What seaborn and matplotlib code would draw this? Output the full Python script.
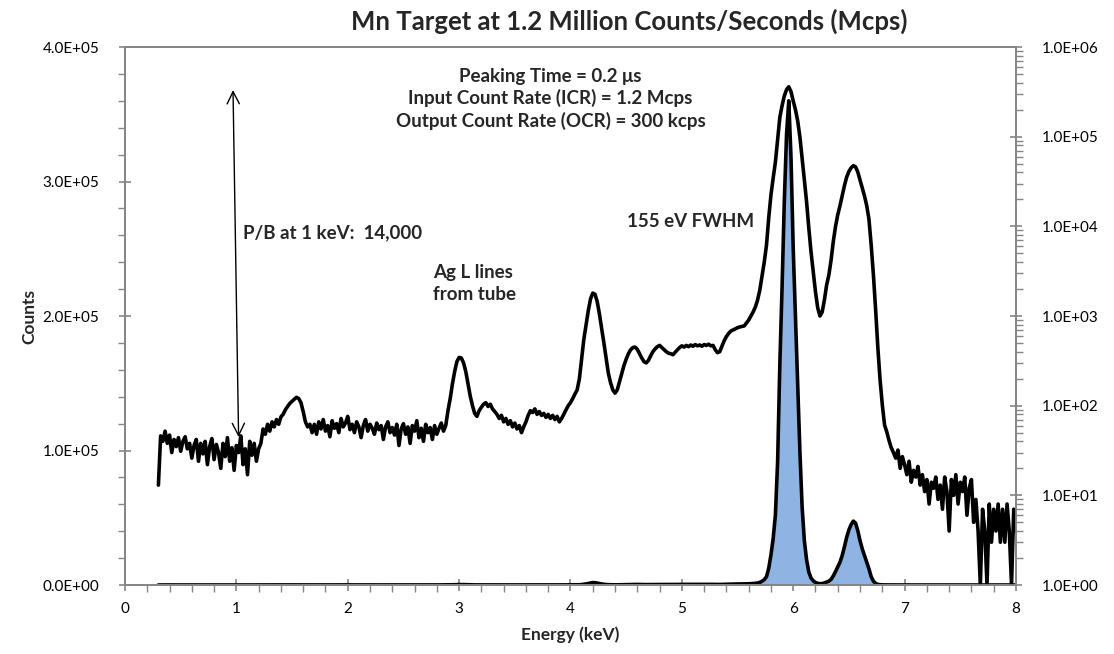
import numpy as np
import pandas as pd
import seaborn as sns
import matplotlib.pyplot as plt
from matplotlib.ticker import FuncFormatter, MultipleLocator, LogLocator, NullFormatter

# Mn target spectrum, 0.02 keV per channel; each segment starts at the given energy
kev_per_channel = 0.02

seg_low_start = 0.30
seg_low = [13, 46, 40, 52, 38, 47, 30, 42, 35, 44, 31, 40, 45, 33, 38, 26, 36, 42, 24, 38,
           29, 40, 22, 35, 43, 25, 37, 30, 20, 38, 27, 44, 24, 34, 19, 36, 30, 46, 22, 33,
           17, 40, 28, 38, 24, 33]

seg_si_start = 1.22
seg_si = [38, 55, 48, 62, 52, 66, 58, 70, 62, 75, 80, 90, 98, 106, 112, 118, 124, 120, 108, 86,
          66, 58, 62, 50]

seg_flat_start = 1.70
seg_flat = [62, 48, 66, 55, 70, 52, 60, 45, 68, 56, 63, 50, 72, 58, 64, 76, 54, 62, 50, 66,
            58, 44, 60, 70, 52, 62, 56, 48, 64, 54, 60, 42, 58, 66, 50, 57, 47, 62, 36, 55,
            63, 48, 58, 38, 60, 52, 68, 44, 56, 40, 62, 50, 57, 42, 60, 48, 56, 64, 52, 60]

seg_agl_start = 2.90
seg_agl = [88, 120, 175, 240, 310, 345, 340, 300, 240, 175, 128, 100, 82, 76, 88, 96, 104, 108, 98, 104,
           92, 86]

seg_mid_start = 3.34
seg_mid = [80, 72, 78, 66, 72, 62, 68, 58, 64, 55, 60, 50, 58, 66, 78, 88, 84, 92, 80, 86,
           78, 82, 74, 80, 72, 78, 70, 76, 66, 72, 80, 90, 100, 108]

seg_esc_start = 4.02
seg_esc = [120, 135, 150, 200, 330, 550, 800, 1150, 1550, 1800,
           1750, 1450, 1050, 730, 500, 340, 230, 180, 150, 138,
           150, 185, 230, 280, 330, 380, 420, 445, 450, 425,
           380, 340, 310, 300, 320, 360, 400, 430, 455, 470,
           445, 420, 400, 385, 380, 370, 395, 420, 445, 465,
           450, 470, 455, 475, 460, 480, 465, 475, 460, 480,
           470, 485, 465, 470, 420, 390, 400, 460, 530, 590,
           640, 680, 700, 720, 740, 755, 765]

seg_mn_start = 5.56
seg_mn = [775, 836, 902, 1000, 1110, 1260, 1510, 1950, 2790, 4000,
          6190, 12400, 22400, 34600, 52100, 92000, 165000, 222000, 285000, 335000,
          360000, 318000, 250000, 200000, 150000, 99100, 57800, 32900, 18700, 9570,
          5170, 3100, 1850, 1230, 1000, 1110, 1510, 2220, 2870, 4210,
          6800, 10000, 13500, 17000, 22000, 28500, 35500, 41000, 45000, 47500,
          46000, 40300, 32900, 26800, 21800, 17000, 12000, 6190, 2870, 1170,
          440, 193, 102, 61, 51, 41, 34]

seg_tail_start = 6.90
seg_tail = [30, 26, 32, 20, 27, 22, 17, 24, 14, 19, 16, 21, 13, 17, 11, 15, 8, 14, 12, 16,
            9, 13, 7, 16, 11, 4, 15, 10, 17, 8, 14, 11, 16, 6, 12, 15, 5, 9, 4, 1,
            7, 4, 1, 8, 3, 7, 4, 8, 3, 7, 3, 8, 4, 1, 7, 4]

segments = [(seg_low_start, seg_low), (seg_si_start, seg_si), (seg_flat_start, seg_flat),
            (seg_agl_start, seg_agl), (seg_mid_start, seg_mid), (seg_esc_start, seg_esc),
            (seg_mn_start, seg_mn), (seg_tail_start, seg_tail)]

frames = []
for start, vals in segments:
    e = np.round(start + kev_per_channel * np.arange(len(vals)), 2)
    frames.append(pd.DataFrame({'energy': e, 'counts': vals}))
df = pd.concat(frames, ignore_index=True)

sns.set_theme(style="white")
plt.rcParams['font.family'] = ['Lato', 'DejaVu Sans']

axis_grey = '#868686'
fill_blue = '#8DB4E2'

fig = plt.figure(figsize=(11.14, 6.54), dpi=100)
ax = fig.add_axes([0.1122, 0.1055, 0.7998, 0.8226])

# linear scale: filled peaks
ax.fill_between(df['energy'], 0, df['counts'], color=fill_blue, lw=0, zorder=1)
sns.lineplot(data=df, x='energy', y='counts', ax=ax, color='black', lw=2.6,
             estimator=None, sort=False, zorder=2)

ax.set_xlim(0, 8)
ax.set_ylim(0, 4e5)
ax.xaxis.set_major_locator(MultipleLocator(1))
ax.xaxis.set_minor_locator(MultipleLocator(0.2))
ax.yaxis.set_major_locator(MultipleLocator(1e5))
ax.yaxis.set_minor_locator(MultipleLocator(2e4))
ax.yaxis.set_major_formatter(FuncFormatter(lambda v, _: f"{v:.1E}"))
ax.set_xlabel('Energy (keV)', fontsize=12.5, fontweight='bold', labelpad=7)
ax.set_ylabel('Counts', fontsize=12.5, fontweight='bold', labelpad=4)

# log scale: full spectrum
ax2 = ax.twinx()
sns.lineplot(data=df, x='energy', y='counts', ax=ax2, color='black', lw=2.6,
             estimator=None, sort=False)
ax2.set_yscale('log')
ax2.set_ylim(1, 1e6)
ax2.set_xlim(0, 8)
ax2.yaxis.set_major_locator(LogLocator(base=10, numticks=10))
ax2.yaxis.set_minor_locator(LogLocator(base=10, subs=np.arange(2, 10), numticks=10))
ax2.yaxis.set_minor_formatter(NullFormatter())
ax2.yaxis.set_major_formatter(FuncFormatter(lambda v, _: f"{v:.1E}"))
ax2.set_ylabel('')
ax2.set_xlabel('')
ax2.xaxis.label.set_visible(False)
for a in (ax, ax2):
    a.xaxis.offsetText.set_visible(False)
    a.yaxis.offsetText.set_visible(False)

for a in (ax, ax2):
    for s in a.spines.values():
        s.set_color(axis_grey)
        s.set_linewidth(1.3)

ax.tick_params(axis='both', which='major', direction='inout', length=9, width=1.2,
               color=axis_grey, labelsize=11, labelcolor='black', bottom=True, left=True)
ax.tick_params(axis='both', which='minor', direction='out', length=5, width=1.0,
               color=axis_grey, bottom=True, left=True)
ax.tick_params(axis='x', which='major', pad=8)
ax.tick_params(axis='y', which='major', pad=14)
ax2.tick_params(axis='y', which='major', direction='inout', length=9, width=1.2,
                color=axis_grey, labelsize=11, labelcolor='black', right=True, pad=14)
ax2.tick_params(axis='y', which='minor', direction='out', length=5, width=1.0,
                color=axis_grey, right=True)

# annotations
info = "Peaking Time = 0.2 \u03bcs\nInput Count Rate (ICR) = 1.2 Mcps\nOutput Count Rate (OCR) = 300 kcps"
ax.text(3.82, 3.615e5, info, ha='center', va='center', fontsize=13.5, fontweight='bold',
        linespacing=1.3)
ax.text(1.06, 2.62e5, 'P/B at 1 keV:  14,000', ha='left', va='center', fontsize=13.5,
        fontweight='bold')
ax.text(4.51, 2.70e5, '155 eV FWHM', ha='left', va='center', fontsize=13.5, fontweight='bold')
ax.text(2.77, 2.24e5, 'Ag L lines\nfrom tube', ha='left', va='center', fontsize=13.5,
        fontweight='bold', linespacing=1.35)
ax.annotate('', xy=(0.97, 3.68e5), xytext=(1.02, 1.10e5),
            arrowprops=dict(arrowstyle='<->', color='black', lw=1.0,
                            mutation_scale=22, shrinkA=0, shrinkB=0))

fig.text(0.5646, 0.968, 'Mn Target at 1.2 Million Counts/Seconds (Mcps)', ha='center',
         va='center', fontsize=18.5, fontweight='bold')

fig.savefig('out.png', dpi=100)
